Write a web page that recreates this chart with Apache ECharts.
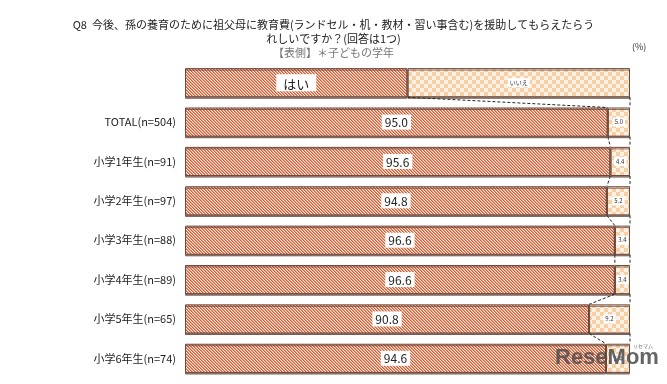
<!DOCTYPE html>
<html>
<head>
<meta charset="utf-8">
<script src="https://cdn.jsdelivr.net/npm/echarts@6/dist/echarts.min.js"></script>
<style>
html,body{margin:0;padding:0;background:#fff;}
#chart{width:667px;height:384px;}
</style>
</head>
<body>
<div id="chart"></div>
<script>
// ---- data ----
var categories = ['', 'TOTAL(n=504)', '小学1年生(n=91)', '小学2年生(n=97)', '小学3年生(n=88)', '小学4年生(n=89)', '小学5年生(n=65)', '小学6年生(n=74)'];
var legendNames = ['はい', 'いいえ'];
var legendShares = [50, 50];
var yesValues = [95.0, 95.6, 94.8, 96.6, 96.6, 90.8, 94.6];
var noValues = [5.0, 4.4, 5.2, 3.4, 3.4, 9.2, 5.4];
var titleLines = ['Q8  今後、孫の養育のために祖父母に教育費(ランドセル・机・教材・習い事含む)を援助してもらえたらう', 'れしいですか？(回答は1つ)'];
var subTitle = '【表側】＊子どもの学年';
var unitText = '(%)';

// ---- patterns ----
function makeStripe() {
  var c = document.createElement('canvas'); c.width = 6; c.height = 6;
  var ctx = c.getContext('2d');
  var img = ctx.createImageData(6, 6);
  var cols = [[212, 92, 55], [234, 150, 120], [252, 232, 220]];
  for (var y = 0; y < 6; y++) for (var x = 0; x < 6; x++) {
    var col = cols[(x - y + 12) % 3];
    var k = (y * 6 + x) * 4;
    img.data[k] = col[0]; img.data[k + 1] = col[1]; img.data[k + 2] = col[2]; img.data[k + 3] = 255;
  }
  ctx.putImageData(img, 0, 0);
  return c;
}
function makeChecker() {
  var c = document.createElement('canvas'); c.width = 8; c.height = 8;
  var ctx = c.getContext('2d');
  ctx.fillStyle = '#fdf1e4'; ctx.fillRect(0, 0, 8, 8);
  ctx.fillStyle = '#f6cfa6'; ctx.fillRect(0, 0, 4, 4); ctx.fillRect(4, 4, 4, 4);
  return c;
}

var yesRow = [legendShares[0]].concat(yesValues);
var noRow = [legendShares[1]].concat(noValues);
var connectors = [];
for (var i = 0; i < yesRow.length - 1; i++) connectors.push([yesRow[i], i, yesRow[i + 1], i + 1]);

var chart = echarts.init(document.getElementById('chart'));
var font = '"Noto Sans CJK JP", "Noto Sans", sans-serif';
var borderStyle = {
  borderColor: '#6b4b3e', borderWidth: 1,
  shadowColor: 'rgba(90,60,50,0.7)', shadowOffsetX: 0, shadowOffsetY: 1.5, shadowBlur: 0
};

chart.setOption({
  animation: false,
  textStyle: { fontFamily: font },
  grid: { left: 185, right: 37, top: 63, bottom: 6 },
  xAxis: { type: 'value', min: 0, max: 100, show: false },
  yAxis: {
    type: 'category', inverse: true, data: categories,
    axisLine: { show: false }, axisTick: { show: false },
    axisLabel: { color: '#222', fontSize: 11, margin: 9, fontFamily: font }
  },
  graphic: [
    { type: 'text', left: 'center', top: 19, style: { text: titleLines[0], font: '11px ' + font, fill: '#222', textAlign: 'center' }, x: -2 },
    { type: 'text', left: 'center', top: 33, style: { text: titleLines[1], font: '11px ' + font, fill: '#222' } },
    { type: 'text', left: 'center', top: 47, style: { text: subTitle, font: '11px ' + font, fill: '#777' } },
    { type: 'text', left: 632, top: 42, style: { text: unitText, font: '9px ' + font, fill: '#333' } },
    { type: 'text', z: 100, left: 555, top: 347, style: { text: 'ReseMom', font: 'bold 22px "Liberation Sans", sans-serif', fill: 'rgba(80,80,80,0.88)' } },
    { type: 'text', z: 100, left: 633, top: 344, style: { text: 'リセマム', font: '5px ' + font, fill: 'rgba(80,80,80,0.85)' } }
  ],
  series: [
    {
      type: 'bar', stack: 'a', barCategoryGap: '26%',
      data: yesRow,
      itemStyle: Object.assign({ color: { image: makeStripe(), repeat: 'repeat' } }, borderStyle),
      label: {
        show: true, position: 'inside', color: '#222', fontSize: 12,
        backgroundColor: '#fff', padding: [2, 3, 1, 3],
        formatter: function (p) { return p.dataIndex === 0 ? '{h|' + legendNames[0] + '}' : p.value.toFixed(1); },
        rich: { h: { fontSize: 13, color: '#222', padding: [1, 4, 0, 4] } }
      }
    },
    {
      type: 'bar', stack: 'a',
      data: noRow,
      itemStyle: Object.assign({ color: { image: makeChecker(), repeat: 'repeat' } }, borderStyle),
      label: {
        show: true, position: 'inside', color: '#333', fontSize: 6,
        backgroundColor: '#fff', padding: [2, 2, 1, 2],
        formatter: function (p) { return p.dataIndex === 0 ? legendNames[1] : p.value.toFixed(1); }
      }
    },
    {
      type: 'custom', silent: true, z: 5,
      data: connectors,
      renderItem: function (params, api) {
        var h = api.size([0, 1])[1] * 0.74 / 2;
        var a = api.coord([api.value(0), api.value(1)]);
        var b = api.coord([api.value(2), api.value(3)]);
        var ra = api.coord([100, api.value(1)]);
        var rb = api.coord([100, api.value(3)]);
        var ls = { stroke: '#222', lineWidth: 1, lineDash: [3, 2] };
        return {
          type: 'group', children: [
            { type: 'line', shape: { x1: a[0], y1: a[1] + h, x2: b[0], y2: b[1] - h }, style: ls },
            { type: 'line', shape: { x1: ra[0], y1: ra[1] + h, x2: rb[0], y2: rb[1] - h }, style: ls }
          ]
        };
      }
    }
  ]
});
</script>
</body>
</html>
